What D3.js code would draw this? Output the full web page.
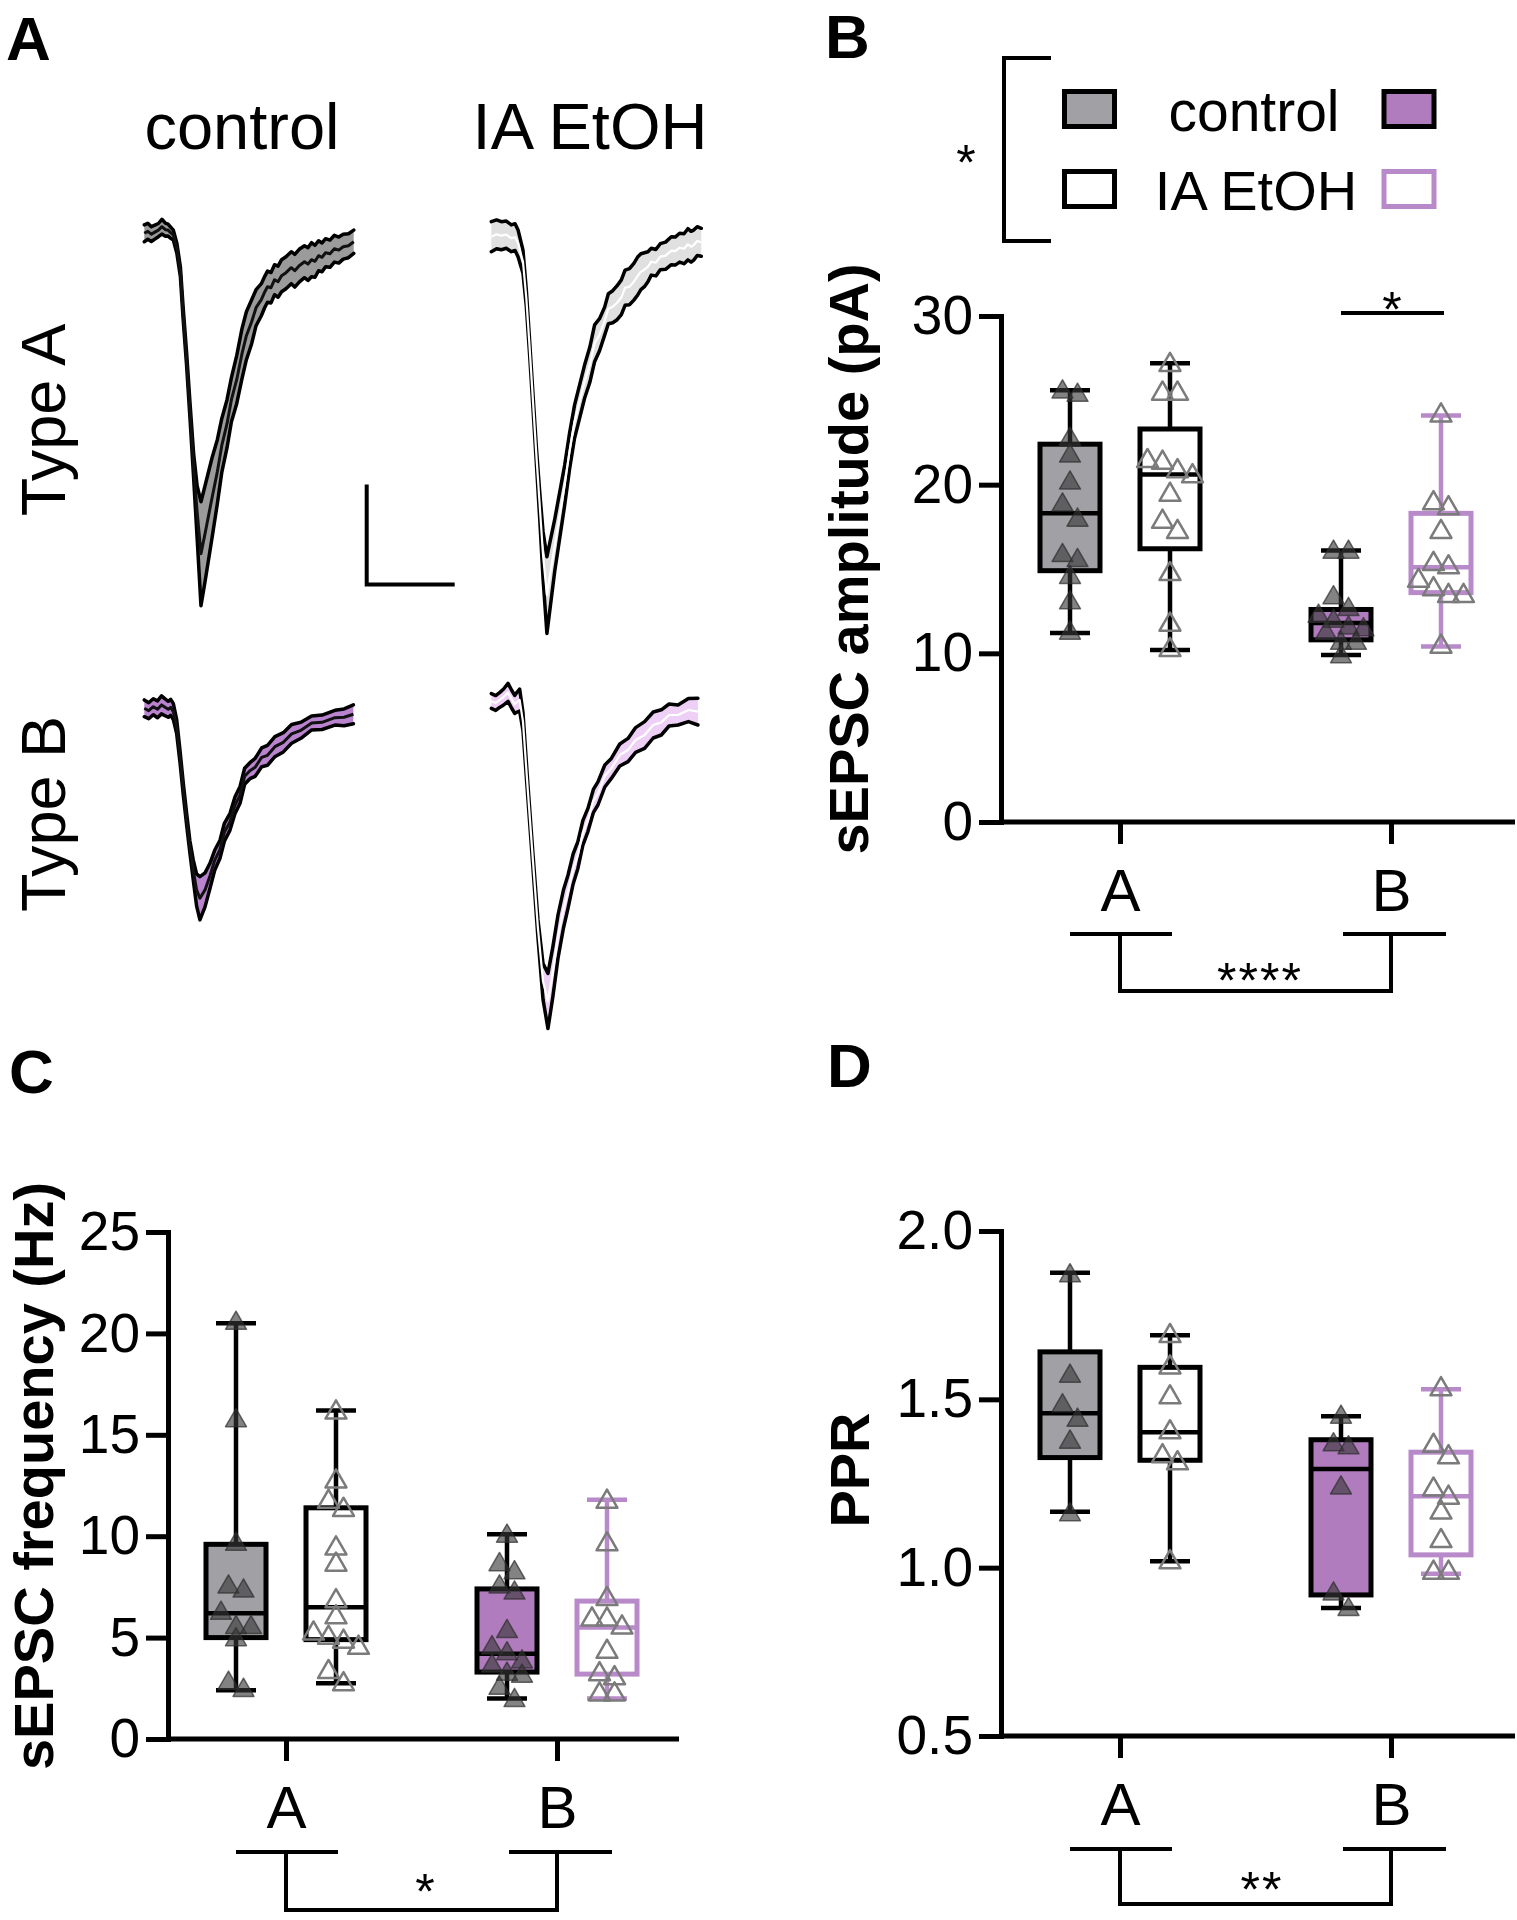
<!DOCTYPE html>
<html><head><meta charset="utf-8">
<script src="https://cdn.jsdelivr.net/npm/d3@7"></script>
<style>
body{margin:0;background:#fff}
svg{display:block}
text{font-family:"Liberation Sans",Arial,Helvetica,sans-serif;fill:#000}
</style>
</head><body>
<svg id="fig" width="1517" height="1920"></svg>
<script>
// ---------------- DATA ----------------
const groups = ["A", "B"];
const conditions = ["control", "IA EtOH"];
const columnTitles = ["control", "IA EtOH"];
const rowTitles = ["Type A", "Type B"];

// Panel A: averaged sEPSC traces (time in ms, current in pA, mean and SEM)
const ctrlA_t    = [0,0.2,0.4,0.6,0.8,1.0,1.2,1.35,1.5,1.65,1.85,2.05,2.2,2.4,2.6,2.8,3.0,3.22,3.45,3.85,4.15,4.4,4.7,4.95,5.25,5.55,5.8,6.1,6.35,6.65,6.85,7.0,7.2,7.4,7.6,7.8,8.05,8.35,8.55,8.8,9.1,9.3,9.5,9.7,9.9,10.1,10.3,10.55,10.8,11.05,11.3,11.6,11.9];
const ctrlA_mean = [-0.08,0.02,-0.12,-0.02,0.08,0.25,0.1,0.08,-0.05,-0.17,-0.83,-2.0,-4.0,-6.33,-9.0,-11.67,-14.0,-16.1,-15.1,-13.3,-12.0,-10.7,-9.6,-8.4,-7.4,-6.1,-5.2,-4.5,-3.8,-3.4,-3.0,-2.75,-2.8,-2.4,-2.5,-2.2,-2.05,-1.8,-1.95,-1.7,-1.5,-1.62,-1.4,-1.48,-1.2,-1.28,-1.05,-1.1,-0.85,-0.92,-0.75,-0.7,-0.5];
const ctrlA_sem  = [0.42,0.4,0.37,0.35,0.33,0.37,0.33,0.3,0.28,0.25,0.25,0.25,0.3,0.33,0.4,0.6,1.3,2.6,2.4,2.0,1.6,1.35,1.2,1.1,1.2,1.25,1.2,1.1,0.9,0.8,0.78,0.78,0.76,0.75,0.78,0.8,0.8,0.8,0.82,0.82,0.8,0.82,0.85,0.8,0.75,0.72,0.7,0.68,0.67,0.65,0.62,0.6,0.58];

const etohA_t    = [0,0.3,0.57,0.85,1.14,1.35,1.52,1.8,1.99,2.18,2.37,2.56,2.75,2.94,3.16,3.6,4.17,4.45,4.73,5.0,5.3,5.6,5.87,6.15,6.44,6.65,6.9,7.15,7.39,7.6,7.85,8.1,8.33,8.5,8.7,8.9,9.09,9.35,9.6,9.9,10.23,10.45,10.7,10.95,11.17,11.35,11.5,11.7,11.93];
const etohA_mean = [0,0.12,0.05,0.1,-0.08,-0.02,-0.33,-1.25,-3.08,-5.58,-8.25,-10.92,-13.42,-15.92,-17.92,-15.45,-12.42,-10.7,-9.25,-8.3,-7.25,-6.4,-5.33,-4.9,-4.22,-3.6,-3.5,-3.3,-3.03,-2.55,-2.5,-2.25,-1.95,-1.75,-1.65,-1.5,-1.25,-1.3,-1.0,-0.95,-0.7,-0.72,-0.55,-0.6,-0.38,-0.5,-0.42,-0.22,-0.28];
const etohA_sem  = [0.75,0.72,0.7,0.68,0.67,0.67,0.67,0.58,0.42,0.35,0.35,0.4,0.67,1.17,1.92,1.3,1.0,0.9,0.83,0.83,0.83,0.88,0.92,0.8,0.7,0.75,0.8,0.85,0.87,0.88,0.9,0.92,0.95,0.9,0.85,0.75,0.67,0.66,0.65,0.68,0.7,0.7,0.72,0.75,0.78,0.77,0.75,0.72,0.7];

const ctrlB_t    = [0,0.25,0.51,0.75,0.98,1.18,1.36,1.5,1.65,1.84,2.03,2.22,2.41,2.59,2.78,2.97,3.16,3.45,3.73,4.0,4.3,4.55,4.87,5.15,5.44,5.7,6.0,6.3,6.67,7.0,7.42,7.9,8.37,8.9,9.51,10.1,10.83,11.35,11.88];
const ctrlB_mean = [0,-0.12,0.08,-0.05,0.17,0.05,-0.05,0.05,-0.17,-0.92,-2.42,-4.08,-5.58,-6.92,-8.08,-9.08,-9.5,-9.08,-8.38,-7.6,-7.05,-6.2,-5.67,-4.85,-4.33,-3.4,-3.12,-2.95,-2.45,-2.35,-1.92,-1.7,-1.28,-1.1,-0.73,-0.7,-0.47,-0.45,-0.3];
const ctrlB_sem  = [0.42,0.4,0.4,0.42,0.45,0.42,0.4,0.4,0.4,0.35,0.3,0.3,0.3,0.3,0.5,0.8,1.08,0.85,0.63,0.5,0.45,0.45,0.42,0.42,0.42,0.4,0.4,0.45,0.47,0.5,0.5,0.48,0.47,0.4,0.35,0.36,0.37,0.42,0.47];

const etohB_t    = [0,0.25,0.47,0.7,0.95,1.15,1.33,1.47,1.61,1.8,2.08,2.37,2.65,2.94,3.22,3.5,3.79,4.1,4.36,4.65,4.92,5.2,5.49,5.8,6.06,6.45,6.82,7.3,7.77,8.2,8.71,9.2,9.66,10.1,10.61,11.2,11.74];
const etohB_mean = [0,-0.1,0.05,0.2,0.43,0.1,-0.17,-0.05,0.05,-1.03,-4.53,-8.03,-11.37,-14.03,-15.0,-13.53,-11.78,-10.4,-9.53,-8.4,-7.7,-6.6,-5.95,-5.0,-4.62,-3.75,-3.37,-2.7,-2.45,-1.95,-1.7,-1.2,-1.07,-0.7,-0.7,-0.45,-0.53];
const etohB_sem  = [0.37,0.37,0.37,0.4,0.45,0.45,0.45,0.5,0.55,0.45,0.35,0.35,0.45,0.9,1.38,1.25,1.08,0.95,0.83,0.75,0.67,0.62,0.58,0.58,0.58,0.55,0.5,0.55,0.58,0.62,0.67,0.65,0.63,0.55,0.5,0.58,0.67];

const scaleBar = {ms: 5, pA: 5};

// Panel B: sEPSC amplitude (pA)
const ampTicks = [0, 10, 20, 30];
const amp_ctrlA = [25.3, 25.5, 22.7, 21.7, 20.1, 18.8, 17.9, 15.8, 15.5, 14.5, 13.0, 11.2];
const amp_etohA = [27.1, 25.4, 25.4, 21.4, 21.3, 20.8, 20.5, 19.4, 17.8, 17.2, 14.7, 11.7, 10.2];
const amp_ctrlB = [16.0, 16.0, 13.3, 12.6, 12.2, 11.9, 11.5, 11.4, 11.2, 10.6, 10.6, 9.8];
const amp_etohB = [24.1, 18.9, 18.6, 17.2, 15.3, 15.1, 14.3, 13.8, 13.4, 13.4, 10.4];
// box stats: [min, q1, median, q3, max]
const ampBox_ctrlA = [11.2, 14.9, 18.3, 22.4, 25.6];
const ampBox_etohA = [10.2, 16.2, 20.6, 23.3, 27.2];
const ampBox_ctrlB = [9.9, 10.8, 11.8, 12.6, 16.1];
const ampBox_etohB = [10.4, 13.6, 15.1, 18.3, 24.1];

// Panel C: sEPSC frequency (Hz)
const freqTicks = [0, 5, 10, 15, 20, 25];
const freq_ctrlA = [20.5, 15.7, 9.6, 7.5, 7.3, 6.2, 5.5, 5.5, 4.9, 2.75, 2.4];
const freq_etohA = [16.1, 12.7, 11.7, 11.3, 9.4, 8.6, 6.8, 6.0, 5.2, 5.0, 4.8, 4.5, 3.3, 2.7];
const freq_ctrlB = [10.0, 8.6, 8.2, 7.5, 7.2, 5.3, 4.5, 4.2, 3.8, 3.6, 3.2, 3.1, 2.5, 1.9];
const freq_etohB = [11.7, 9.6, 6.9, 5.9, 5.9, 5.5, 4.3, 3.2, 3.0, 2.2, 2.2];
const freqBox_ctrlA = [2.4, 5.0, 6.2, 9.6, 20.5];
const freqBox_etohA = [2.75, 4.9, 6.5, 11.4, 16.2];
const freqBox_ctrlB = [2.0, 3.3, 4.2, 7.4, 10.1];
const freqBox_etohB = [2.0, 3.2, 5.5, 6.8, 11.8];

// Panel D: paired-pulse ratio
const pprTicks = [0.5, 1.0, 1.5, 2.0];
const ppr_ctrlA = [1.867, 1.569, 1.481, 1.438, 1.373, 1.157];
const ppr_etohA = [1.688, 1.595, 1.506, 1.402, 1.331, 1.310, 1.016];
const ppr_ctrlB = [1.447, 1.365, 1.356, 1.237, 0.922, 0.876];
const ppr_etohB = [1.530, 1.362, 1.328, 1.232, 1.208, 1.164, 1.079, 0.985, 0.985];
const pprBox_ctrlA = [1.166, 1.327, 1.459, 1.641, 1.876];
const pprBox_etohA = [1.019, 1.319, 1.402, 1.595, 1.690];
const pprBox_ctrlB = [0.880, 0.919, 1.293, 1.380, 1.450];
const pprBox_etohB = [0.982, 1.038, 1.212, 1.343, 1.530];

// significance labels
const sigLegend = "*";
const sigAmpB = "*";
const sigAmpType = "****";
const sigFreqType = "*";
const sigPprType = "**";

// ---------------- DRAWING ----------------
const GRAY = "#a1a0a5", PURPLE = "#b07cbe", LPURPLE = "#b88ac9";
const STAR_FS = 50, STAR_DY = 29;
const svg = d3.select("#fig");

// panel letters
[["A", 6, 60], ["B", 825, 58], ["C", 9, 1093], ["D", 827, 1087]].forEach(([t, x, y]) => {
  svg.append("text").text(t).attr("x", x).attr("y", y)
    .attr("font-size", 62).attr("font-weight", "bold");
});

// ---- Panel A traces ----
const pxPerMs = 17.6, pxPerPA = 20;
const traceSpecs = [
  {t: ctrlA_t, m: ctrlA_mean, s: ctrlA_sem, x0: 144.3, y0: 231.7, band: "#9b9b9b", mid: "#111", mw: 3},
  {t: etohA_t, m: etohA_mean, s: etohA_sem, x0: 491.3, y0: 236.7, band: "#e0e0e0", mid: "#ffffff", mw: 2.2},
  {t: ctrlB_t, m: ctrlB_mean, s: ctrlB_sem, x0: 144.3, y0: 708.3, band: "#b983cf", mid: "#111", mw: 3},
  {t: etohB_t, m: etohB_mean, s: etohB_sem, x0: 491.3, y0: 701.0, band: "#eed0f6", mid: "#ffffff", mw: 2.2}
];
const gA = svg.append("g");
let ctrlScales = null;
traceSpecs.forEach((tr, k) => {
  const x = d3.scaleLinear().domain([0, 12]).range([tr.x0, tr.x0 + 12 * pxPerMs]);
  const y = d3.scaleLinear().domain([0, -20]).range([tr.y0, tr.y0 + 20 * pxPerPA]);
  if (k === 0) ctrlScales = {x, y};
  const pts = tr.t.map((t, i) => ({t, m: tr.m[i], s: tr.s[i]}));
  gA.append("path").attr("d", d3.area().x(d => x(d.t)).y0(d => y(d.m - d.s)).y1(d => y(d.m + d.s))(pts))
    .attr("fill", tr.band);
  [1, -1].forEach(sign => {
    gA.append("path").attr("d", d3.line().x(d => x(d.t)).y(d => y(d.m + sign * d.s))(pts))
      .attr("fill", "none").attr("stroke", "#000").attr("stroke-width", 3.5)
      .attr("stroke-linejoin", "round").attr("stroke-linecap", "round");
  });
  gA.append("path").attr("d", d3.line().x(d => x(d.t)).y(d => y(d.m))(pts))
    .attr("fill", "none").attr("stroke", tr.mid).attr("stroke-width", tr.mw)
    .attr("stroke-linejoin", "round");
});
// scale bar (5 ms, 5 pA) using trace scales
{
  const {x, y} = ctrlScales;
  const bx = 366.7, by = 584.5;
  const w = x(scaleBar.ms) - x(0), h = y(-scaleBar.pA) - y(0);
  gA.append("path").attr("d", `M${bx},${by - h}V${by}H${bx + w}`)
    .attr("fill", "none").attr("stroke", "#000").attr("stroke-width", 4);
}
// column / row titles
svg.append("text").text(columnTitles[0]).attr("x", 242).attr("y", 149)
  .attr("font-size", 65).attr("text-anchor", "middle");
svg.append("text").text(columnTitles[1]).attr("x", 590).attr("y", 149)
  .attr("font-size", 65).attr("text-anchor", "middle");
[[rowTitles[0], 420], [rowTitles[1], 814]].forEach(([t, cy]) => {
  svg.append("text").text(t).attr("transform", `translate(65,${cy}) rotate(-90)`)
    .attr("font-size", 63).attr("text-anchor", "middle");
});

// ---- Legend (panel B) ----
{
  const lg = svg.append("g");
  const boxes = [
    [1064.5, 91.5, GRAY, "#000"], [1384, 91.5, PURPLE, "#000"],
    [1064.5, 171.5, "#fff", "#000"], [1384, 171.5, "#fff", LPURPLE]
  ];
  boxes.forEach(([x, y, f, s]) => lg.append("rect").attr("x", x).attr("y", y)
    .attr("width", 50).attr("height", 35).attr("fill", f).attr("stroke", s).attr("stroke-width", 5));
  lg.append("text").text(conditions[0]).attr("x", 1254).attr("y", 131)
    .attr("font-size", 57).attr("text-anchor", "middle");
  lg.append("text").text(conditions[1]).attr("x", 1256).attr("y", 210)
    .attr("font-size", 56).attr("text-anchor", "middle");
  lg.append("path").attr("d", "M1051,58H1004V241H1051").attr("fill", "none")
    .attr("stroke", "#000").attr("stroke-width", 4);
  lg.append("text").text(sigLegend).attr("x", 966).attr("y", 151 + STAR_DY)
    .attr("font-size", STAR_FS).attr("text-anchor", "middle");
}

// ---- Box plot panels ----
function swarm(values, y, d, h) {
  const pts = values.map(v => ({v, py: y(v)})).sort((a, b) => a.py - b.py);
  const rows = []; let cur = null;
  pts.forEach(p => {
    if (cur && p.py - cur[0].py < h) cur.push(p); else { cur = [p]; rows.push(cur); }
  });
  rows.forEach(r => r.forEach((p, i) => { p.dx = (i - (r.length - 1) / 2) * d; }));
  return pts;
}

function boxPanel(cfg) {
  const g = svg.append("g");
  const y = d3.scaleLinear().domain(cfg.domain).range([cfg.yBottom, cfg.yTop]);
  const x = d3.scalePoint().domain(groups).range(cfg.groupX);
  const off = d3.scalePoint().domain(conditions).range([-50, 50]);
  const AW = 5;

  // y axis
  const ya = g.append("g").attr("transform", `translate(${cfg.axisX},0)`)
    .call(d3.axisLeft(y).tickValues(cfg.ticks).tickFormat(cfg.fmt).tickSize(22).tickPadding(6).tickSizeOuter(0));
  ya.select(".domain").attr("stroke-width", AW).attr("stroke-linecap", "square");
  ya.selectAll(".tick line").attr("stroke-width", AW);
  ya.selectAll(".tick text").attr("font-size", 55).attr("font-family", null).attr("fill", "#000");

  // x axis
  const xa = g.append("g").attr("transform", `translate(0,${cfg.yBottom})`)
    .call(d3.axisBottom(x).tickSize(22).tickPadding(24).tickSizeOuter(0));
  xa.select(".domain").remove();
  xa.selectAll(".tick line").attr("stroke-width", AW);
  xa.selectAll(".tick text").attr("font-size", 60).attr("font-family", null).attr("fill", "#000");
  g.append("line").attr("x1", cfg.axisX).attr("x2", cfg.xEnd).attr("y1", cfg.yBottom).attr("y2", cfg.yBottom)
    .attr("stroke", "#000").attr("stroke-width", AW);

  // title
  g.append("text").text(cfg.title).attr("transform", `translate(${cfg.titleX},${cfg.titleY}) rotate(-90)`)
    .attr("font-size", 56).attr("font-weight", "bold").attr("text-anchor", "middle");

  const tri = d3.symbol(d3.symbolTriangle).size(190)();
  groups.forEach((gr, gi) => {
    conditions.forEach((cond, ci) => {
      const st = cfg.boxes[gi][ci], vals = cfg.points[gi][ci];
      const cx = x(gr) + off(cond);
      const isCtrl = ci === 0;
      const fill = isCtrl ? (gi === 0 ? GRAY : PURPLE) : "#fff";
      const stroke = (!isCtrl && gi === 1) ? LPURPLE : "#000";
      const bw = 60, cw = 40, sw = 4.5;
      const bg = g.append("g");
      bg.append("line").attr("x1", cx).attr("x2", cx).attr("y1", y(st[0])).attr("y2", y(st[4]))
        .attr("stroke", stroke).attr("stroke-width", sw);
      [st[0], st[4]].forEach(v => bg.append("line").attr("x1", cx - cw / 2).attr("x2", cx + cw / 2)
        .attr("y1", y(v)).attr("y2", y(v)).attr("stroke", stroke).attr("stroke-width", sw));
      bg.append("rect").attr("x", cx - bw / 2).attr("y", y(st[3])).attr("width", bw)
        .attr("height", y(st[1]) - y(st[3])).attr("fill", fill).attr("stroke", stroke).attr("stroke-width", 5);
      bg.append("line").attr("x1", cx - bw / 2).attr("x2", cx + bw / 2).attr("y1", y(st[2])).attr("y2", y(st[2]))
        .attr("stroke", stroke).attr("stroke-width", sw);
      swarm(vals, y, 15, 16).forEach(p => {
        bg.append("path").attr("d", tri).attr("transform", `translate(${cx + p.dx},${p.py})`)
          .attr("fill", isCtrl ? "rgba(55,55,55,0.62)" : "none")
          .attr("stroke", isCtrl ? "rgba(45,45,45,0.7)" : "#7b7b7b")
          .attr("stroke-width", isCtrl ? 1.5 : 2.5).attr("stroke-linejoin", "round");
      });
    });
  });

  // group bracket
  const bk = cfg.bracket;
  const xa0 = x("A"), xb0 = x("B");
  g.append("path").attr("d",
      `M${xa0 - 50},${bk.y1}H${xa0 + 52}M${xb0 - 48},${bk.y1}H${xb0 + 55}` +
      `M${xa0},${bk.y1}V${bk.y2}H${xb0}V${bk.y1}`)
    .attr("fill", "none").attr("stroke", "#000").attr("stroke-width", 4);
  g.append("text").text(cfg.sig).attr("x", bk.starX).attr("y", bk.starY + STAR_DY)
    .attr("font-size", STAR_FS).attr("letter-spacing", 2).attr("text-anchor", "middle");
  return {g, x, y, off};
}

const pB = boxPanel({
  domain: [0, 30], yBottom: 822, yTop: 316, axisX: 1001, xEnd: 1515, groupX: [1120, 1391],
  ticks: ampTicks, fmt: d3.format("d"), title: "sEPSC amplitude (pA)", titleX: 868, titleY: 559,
  boxes: [[ampBox_ctrlA, ampBox_etohA], [ampBox_ctrlB, ampBox_etohB]],
  points: [[amp_ctrlA, amp_etohA], [amp_ctrlB, amp_etohB]],
  bracket: {y1: 934, y2: 991, starX: 1260, starY: 969}, sig: sigAmpType
});
// within-type significance (B panel, type B)
pB.g.append("line").attr("x1", pB.x("B") + pB.off("control")).attr("x2", pB.x("B") + pB.off("IA EtOH") + 3)
  .attr("y1", 313).attr("y2", 313).attr("stroke", "#000").attr("stroke-width", 4);
pB.g.append("text").text(sigAmpB).attr("x", 1392).attr("y", 298 + STAR_DY)
  .attr("font-size", STAR_FS).attr("text-anchor", "middle");

boxPanel({
  domain: [0, 25], yBottom: 1739, yTop: 1232, axisX: 168, xEnd: 679, groupX: [286, 557],
  ticks: freqTicks, fmt: d3.format("d"), title: "sEPSC frequency (Hz)", titleX: 53, titleY: 1476,
  boxes: [[freqBox_ctrlA, freqBox_etohA], [freqBox_ctrlB, freqBox_etohB]],
  points: [[freq_ctrlA, freq_etohA], [freq_ctrlB, freq_etohB]],
  bracket: {y1: 1852, y2: 1910, starX: 426, starY: 1880}, sig: sigFreqType
});

boxPanel({
  domain: [0.5, 2.0], yBottom: 1736, yTop: 1231, axisX: 1001, xEnd: 1515, groupX: [1120, 1391],
  ticks: pprTicks, fmt: d3.format(".1f"), title: "PPR", titleX: 869, titleY: 1470,
  boxes: [[pprBox_ctrlA, pprBox_etohA], [pprBox_ctrlB, pprBox_etohB]],
  points: [[ppr_ctrlA, ppr_etohA], [ppr_ctrlB, ppr_etohB]],
  bracket: {y1: 1849, y2: 1904, starX: 1262, starY: 1878}, sig: sigPprType
});
</script>
</body></html>
